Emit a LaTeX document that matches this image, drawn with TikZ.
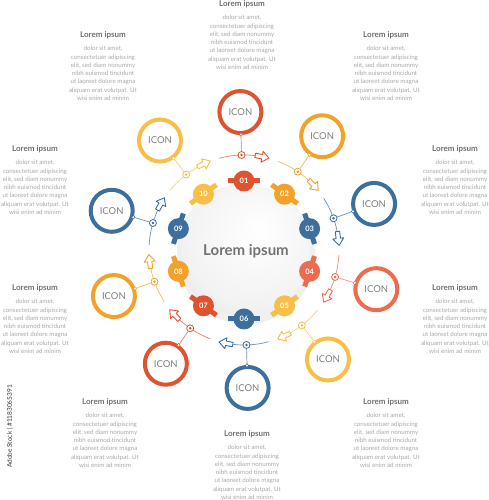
\documentclass[tikz,border=0pt]{standalone}
\usepackage{fontspec}
\setmainfont{Lato}
\definecolor{cRed}{HTML}{DD5430}
\definecolor{cOra}{HTML}{F2A22B}
\definecolor{cBlu}{HTML}{3D6F9D}
\definecolor{cCor}{HTML}{EC6C50}
\definecolor{cYel}{HTML}{F7BF47}
\definecolor{tTitle}{HTML}{707070}
\definecolor{tBody}{HTML}{A8A8A8}
\pgfdeclareradialshading{iconsh}{\pgfpoint{0bp}{0bp}}{color(0bp)=(white); color(28bp)=(white); color(50bp)=(black!24)}
\pgfdeclareradialshading{centersh}{\pgfpoint{6bp}{8bp}}{color(0bp)=(white); color(26bp)=(white!95!black); color(50bp)=(black!19); color(60bp)=(black!22)}
\newcommand\bodytxt{dolor sit amet,\\consectetuer adipiscing\\elit, sed diam nonummy\\nibh euismod tincidunt\\ut laoreet dolore magna\\aliquam erat volutpat. Ut\\wisi enim ad minim}
\tikzset{
  titlestyle/.style={font=\bfseries\fontsize{8}{8}\selectfont, text=tTitle, inner sep=0pt},
  bodystyle/.style={font=\fontsize{6.2}{8.3}\selectfont, text=tBody, align=center, inner sep=0pt, anchor=north},
  iconstyle/.style={circle, draw=#1, line width=4pt, minimum size=42pt, inner sep=0pt, shading=iconsh, font=\fontsize{9.5}{9.5}\selectfont, text=black!50},
  badgestyle/.style={circle, fill=#1, minimum size=21pt, inner sep=0pt, text=white, font=\bfseries\fontsize{7.5}{7.5}\selectfont},
  dotstyle/.style={circle, draw=#1, fill=white, line width=0.8pt, minimum size=7pt, inner sep=0pt},
  arcline/.style={draw=#1!75, line width=0.7pt},
  arrowstyle/.style={draw=#1, line width=0.9pt, fill=white, line join=round}
}
\begin{document}
\begin{tikzpicture}[x=1pt,y=1pt]
\useasboundingbox (0,0) rectangle (489,500);
\coordinate (C) at (244,250);
% text blocks
\foreach \k/\tx/\ty in {1/242/4, 2/103/35, 3/386/35, 4/35/149, 5/455/149, 6/35/288, 7/455/288, 8/105/402, 9/386/402, 10/247/434}{
  \node[titlestyle] (t\k) at (\tx, 500-\ty) {Lorem ipsum};
  \node[bodystyle] (b\k) at (\tx, 500-\ty-11) {\bodytxt};
}
\node[rotate=90, anchor=east, font=\fontsize{6.5}{6.5}\selectfont, text=black!80, inner sep=0pt] (wm) at (10, 115) {Adobe Stock | \#1183065391};
% arcs, connectors
\foreach \i/\col in {1/cRed,2/cOra,3/cBlu,4/cCor,5/cYel,6/cBlu,7/cRed,8/cOra,9/cBlu,10/cYel}{
  \pgfmathsetmacro\a{90-36*(\i-1)}
  \begin{scope}[shift={(C)}]
    \draw[arcline=\col] (\a+15:95) arc[start angle=\a+15, end angle=\a-7, radius=95];
    \node[iconstyle=\col] (icon\i) at (\a+1.5:138) {ICON};
    \node[dotstyle=\col] (dot\i) at (\a+1.5:95) {};
    \draw[arcline=\col] (dot\i) -- (icon\i);
    \fill[\col] (dot\i.center) circle (1.4);
    \draw[\col, fill=white, line width=0.5pt] (\a+1.5:115.5) circle (1.7);
    \begin{scope}[shift={(\a-11:95)}, rotate=\a-101]
      \draw[arrowstyle=\col] (-7,-2.2)--(0,-2.2)--(0,-5.5)--(7,0)--(0,5.5)--(0,2.2)--(-7,2.2)--cycle;
    \end{scope}
  \end{scope}
}
% central circle
\fill[black!10] (245,247) circle (68);
\fill[black!6] (246,245) circle (69);
\shade[shading=centersh] (C) circle (66);
\node[font=\bfseries\fontsize{15}{15}\selectfont, text=black!55, inner sep=0pt] (center) at (246,249) {Lorem ipsum};
% badges
\foreach \i/\col in {1/cRed,2/cOra,3/cBlu,4/cCor,5/cYel,6/cBlu,7/cRed,8/cOra,9/cBlu,10/cYel}{
  \pgfmathsetmacro\a{90-36*(\i-1)}
  \begin{scope}[shift={(C)}, rotate=\a-90]
    \fill[\col] (-16,66.5) rectangle (16,71.5);
  \end{scope}
  \node[badgestyle=\col] (badge\i) at ([shift={(\a:69)}]C) {\ifnum\i<10 0\fi\i};
}
\end{tikzpicture}
\end{document}
